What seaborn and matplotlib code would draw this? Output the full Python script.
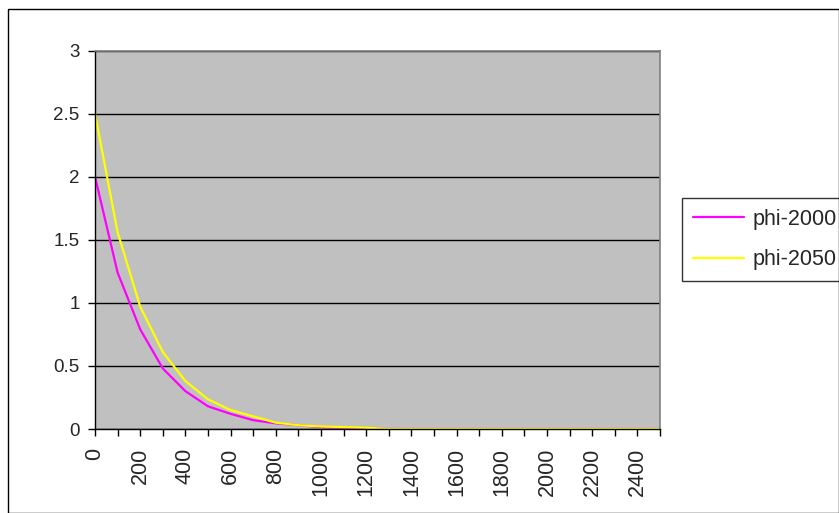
import matplotlib
matplotlib.use("Agg")
import matplotlib.pyplot as plt
import seaborn as sns
import pandas as pd
from matplotlib.patches import Rectangle

# Distance categories (0 .. 2500 in steps of 100)
distance = [0, 100, 200, 300, 400, 500, 600, 700, 800, 900, 1000, 1100, 1200,
            1300, 1400, 1500, 1600, 1700, 1800, 1900, 2000, 2100, 2200, 2300,
            2400, 2500]

phi_2000 = [2.0, 1.24, 0.79, 0.48, 0.30, 0.18, 0.12, 0.07, 0.045, 0.03, 0.015,
            0.01, 0.005, 0, 0, 0, 0, 0, 0, 0, 0, 0, 0, 0, 0, 0]
phi_2050 = [2.5, 1.56, 0.97, 0.61, 0.38, 0.235, 0.15, 0.10, 0.05, 0.03, 0.02,
            0.015, 0.01, 0, 0, 0, 0, 0, 0, 0, 0, 0, 0, 0, 0, 0]

series_names = ["phi-2000", "phi-2050"]
series_colors = ["#FF00FF", "#FFFF00"]

y_ticks = [0, 0.5, 1, 1.5, 2, 2.5, 3]
y_labels = ["0", "0.5", "1", "1.5", "2", "2.5", "3"]
x_label_ticks = list(range(0, 2401, 200))

df = pd.DataFrame({
    "distance": distance * 2,
    "value": phi_2000 + phi_2050,
    "series": [series_names[0]] * len(distance) + [series_names[1]] * len(distance),
})

sns.set_style("white")
plt.rcParams["font.family"] = ["Liberation Sans", "DejaVu Sans"]

W, H = 839, 513
fig = plt.figure(figsize=(W / 100, H / 100), dpi=100)
fig.patch.set_facecolor("white")

# Outer chart frame
fig.add_artist(Rectangle((8 / W, 0), (W - 8.5) / W, (H - 9) / H,
                         transform=fig.transFigure, fill=False,
                         edgecolor="black", linewidth=1.0))

left, right, top, bottom = 95, 660, 50.5, 429
ax = fig.add_axes([left / W, 1 - bottom / H, (right - left) / W, (bottom - top) / H])
ax.set_facecolor("#C0C0C0")

sns.lineplot(data=df, x="distance", y="value", hue="series",
             palette=series_colors, linewidth=1.6, ax=ax, legend=True)

ax.set_xlim(0, 2500)
ax.set_ylim(0, 3)
ax.set_yticks(y_ticks)
ax.set_yticklabels(y_labels, fontsize=13.5)
ax.set_xticks(distance, minor=True)
ax.set_xticks(x_label_ticks)
ax.set_xticklabels([str(v) for v in x_label_ticks], rotation=90, fontsize=15.5)
ax.set_xlabel("")
ax.set_ylabel("")

ax.grid(axis="y", color="black", linewidth=1.0)
ax.set_axisbelow(True)
ax.tick_params(axis="both", which="both", direction="out", length=5,
               width=1, color="black", bottom=True, left=True)
ax.tick_params(axis="x", pad=8.5)
ax.tick_params(axis="y", pad=6.0)

for side in ("top", "right"):
    ax.spines[side].set_color("#808080")
    ax.spines[side].set_linewidth(1.2)
for side in ("left", "bottom"):
    ax.spines[side].set_color("black")
    ax.spines[side].set_linewidth(1.0)

leg = ax.legend(title=None, loc="upper left",
                bbox_to_anchor=(682 / W, 1 - 198 / H),
                bbox_transform=fig.transFigure, fontsize=15.5,
                frameon=True, fancybox=False, borderpad=0.5,
                borderaxespad=0.0,
                handlelength=2.4, handletextpad=0.4, labelspacing=0.9)
leg.get_frame().set_edgecolor("black")
leg.get_frame().set_linewidth(1.0)
leg.get_frame().set_facecolor("white")
for line in leg.get_lines():
    line.set_linewidth(1.6)

fig.savefig("out.png", dpi=100, facecolor="white")
